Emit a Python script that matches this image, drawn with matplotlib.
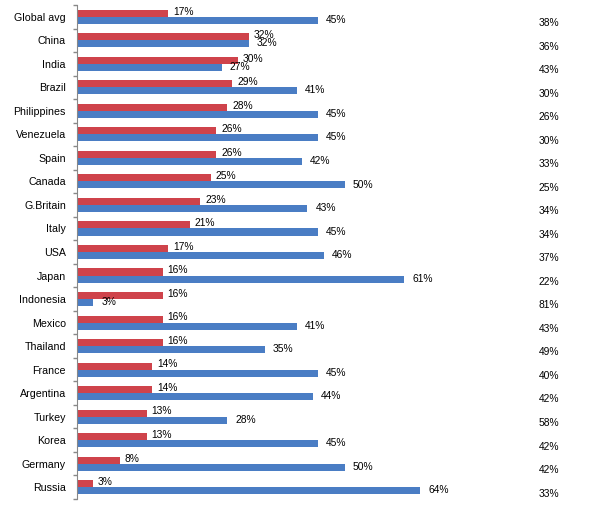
import matplotlib
import matplotlib.pyplot as plt

matplotlib.use("Agg")

countries = ["Global avg", "China", "India", "Brazil", "Philippines", "Venezuela",
             "Spain", "Canada", "G.Britain", "Italy", "USA", "Japan", "Indonesia",
             "Mexico", "Thailand", "France", "Argentina", "Turkey", "Korea",
             "Germany", "Russia"]
red_vals = [17, 32, 30, 29, 28, 26, 26, 25, 23, 21, 17, 16, 16, 16, 16, 14, 14,
            13, 13, 8, 3]
blue_vals = [45, 32, 27, 41, 45, 45, 42, 50, 43, 45, 46, 61, 3, 41, 35, 45, 44,
             28, 45, 50, 64]
right_vals = [38, 36, 43, 30, 26, 30, 33, 25, 34, 34, 37, 22, 81, 43, 49, 40, 42,
              58, 42, 42, 33]

RED = "#CF434B"
BLUE = "#4A7DC4"
plt.rcParams["font.family"] = ["Liberation Sans", "DejaVu Sans"]

W, H = 589, 508
fig = plt.figure(figsize=(W / 100, H / 100), dpi=100)
ax = fig.add_axes([77 / W, (H - 499) / H, (W - 77) / W, 494 / H])

ys = list(range(len(countries)))
bh = 0.3
ax.barh([y - bh / 2 for y in ys], red_vals, height=bh, color=RED)
ax.barh([y + bh / 2 for y in ys], blue_vals, height=bh, color=BLUE)

# data labels next to each bar, third column as plain text on the right
for y, r, b, t in zip(ys, red_vals, blue_vals, right_vals):
    ax.annotate(f"{r}%", (r, y - bh / 2), xytext=(3.6, 1.2), textcoords="offset points",
                ha="left", va="center", fontsize=7.4)
    ax.annotate(f"{b}%", (b, y + bh / 2), xytext=(5.8, 0.3), textcoords="offset points",
                ha="left", va="center", fontsize=7.4)
    ax.text((549 - 77) / (W - 77), y + bh / 2 + 0.12, f"{t}%",
            transform=ax.get_yaxis_transform(), ha="center", va="center", fontsize=7.4)

ax.set_xlim(0, (W - 77) / 5.36)
ax.set_ylim(len(countries) - 0.5, -0.5)
ax.set_yticks(ys)
ax.set_yticklabels(countries, fontsize=7.7)
ax.set_yticks([y - 0.5 for y in ys] + [len(countries) - 0.5], minor=True)
ax.tick_params(axis="y", which="major", length=0, pad=8)
ax.tick_params(axis="y", which="minor", length=3, color="#888888", width=1)
ax.set_xticks([])
for side in ("top", "right", "bottom"):
    ax.spines[side].set_visible(False)
ax.spines["left"].set_color("#888888")

fig.savefig("out.png", dpi=100)
